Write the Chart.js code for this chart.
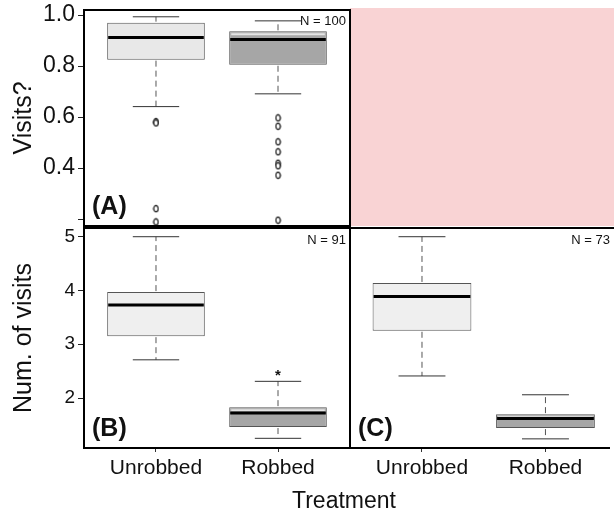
<!doctype html>
<html>

<head>
	<title>Visits by treatment</title>
	<script src="https://cdn.jsdelivr.net/npm/chart.js@4/dist/chart.umd.min.js"></script>
	<style>
		body {
			margin: 0;
			background: #fff;
		}

		#holder {
			position: relative;
			width: 614px;
			height: 515px;
			font-family: "Liberation Sans", Arial, sans-serif;
		}

		#holder canvas {
			position: absolute;
			left: 0;
			top: 0;
		}

		#blank {
			position: absolute;
			left: 350px;
			top: 8px;
			width: 264px;
			height: 218px;
			background: #f9d3d4;
		}

		#xtitle {
			position: absolute;
			left: 244px;
			top: 489px;
			width: 200px;
			text-align: center;
			font-size: 23px;
			line-height: 23px;
			color: #111;
		}
	</style>
</head>

<body>
	<div id="holder">
		<div id="blank"></div>
		<canvas id="chart-a" width="614" height="515"></canvas>
		<canvas id="chart-b" width="614" height="515"></canvas>
		<canvas id="chart-c" width="614" height="515"></canvas>
		<div id="xtitle">Treatment</div>
	</div>
	<script>
		const categories = ['Unrobbed', 'Robbed'];

		// panel A - Visits?
		const aLow = [0.641, 0.691];
		const aQ1 = [0.825, 0.805];
		const aMed = [0.912, 0.904];
		const aQ3 = [0.970, 0.936];
		const aHigh = [0.993, 0.977];
		const aOutUnrobbed = [0.582, 0.577, 0.241, 0.189];
		const aOutRobbed = [0.597, 0.564, 0.503, 0.464, 0.419, 0.409, 0.372, 0.196];
		const aTicks = [0.2, 0.4, 0.6, 0.8, 1.0];
		const aTickLabels = ['', '0.4', '0.6', '0.8', '1.0'];

		// panel B - Num. of visits
		const bLow = [2.71, 1.25];
		const bQ1 = [3.15, 1.46];
		const bMed = [3.73, 1.72];
		const bQ3 = [3.97, 1.83];
		const bHigh = [5.0, 2.31];
		const bStars = ['', '*'];

		// panel C
		const cLow = [2.41, 1.24];
		const cQ1 = [3.25, 1.44];
		const cMed = [3.89, 1.62];
		const cQ3 = [4.14, 1.70];
		const cHigh = [5.0, 2.06];

		const visitTicks = [2, 3, 4, 5];

		const FONT = '"Liberation Sans", Arial, sans-serif';
		const boxColors = ['#ececec', '#a6a6a6'];

		// little open oval used for the outliers
		const oval = document.createElement('canvas');
		oval.width = 7;
		oval.height = 9;
		(function() {
			const c = oval.getContext('2d');
			c.beginPath();
			c.ellipse(3.5, 4.5, 2.2, 3.2, 0, 0, Math.PI * 2);
			c.fillStyle = '#fff';
			c.fill();
			c.strokeStyle = '#111';
			c.lineWidth = 1.2;
			c.stroke();
		})();

		function line(ctx, x1, y1, x2, y2) {
			ctx.beginPath();
			ctx.moveTo(x1, y1);
			ctx.lineTo(x2, y2);
			ctx.stroke();
		}

		const boxExtras = {
			id: 'boxExtras',
			afterDatasetsDraw(chart, args, opts) {
				const {ctx, scales: {x, y}} = chart;
				const bars = chart.getDatasetMeta(0).data;
				ctx.save();
				opts.median.forEach((m, i) => {
					const cx = x.getPixelForValue(i + 1);
					const half = bars[i].width / 2;
					const yTop = y.getPixelForValue(opts.q3[i]);
					const yBot = y.getPixelForValue(opts.q1[i]);
					const yHi = y.getPixelForValue(opts.high[i]);
					const yLo = y.getPixelForValue(opts.low[i]);
					// whiskers
					ctx.strokeStyle = '#555';
					ctx.lineWidth = 1;
					ctx.setLineDash([6, 4]);
					line(ctx, cx, yTop - 1, cx, yHi);
					line(ctx, cx, yBot + 1, cx, yLo);
					ctx.setLineDash([]);
					// caps
					ctx.strokeStyle = '#333';
					const capL = x.getPixelForValue(i + 1 - 0.19);
					const capR = x.getPixelForValue(i + 1 + 0.19);
					line(ctx, capL, yHi, capR, yHi);
					line(ctx, capL, yLo, capR, yLo);
					// shine on the dark boxes
					if (i === 1) {
						ctx.strokeStyle = '#e4e4e4';
						ctx.lineWidth = 2;
						line(ctx, cx - half + 2, yTop + 3, cx + half - 2, yTop + 3);
					}
					// median
					ctx.strokeStyle = '#000';
					ctx.lineWidth = 3;
					const ym = y.getPixelForValue(m);
					line(ctx, cx - half + 1, ym, cx + half - 1, ym);
					// star
					if (opts.stars && opts.stars[i]) {
						ctx.fillStyle = '#111';
						ctx.font = 'bold 15px ' + FONT;
						ctx.textAlign = 'center';
						ctx.textBaseline = 'alphabetic';
						ctx.fillText(opts.stars[i], cx, yHi - 1);
					}
				});
				ctx.restore();
			},
			afterDraw(chart, args, opts) {
				const {ctx, chartArea: a} = chart;
				ctx.save();
				// frame
				ctx.strokeStyle = '#000';
				ctx.lineWidth = 2;
				const sides = opts.sides;
				if (sides.includes('t')) line(ctx, a.left, a.top, a.right, a.top);
				if (sides.includes('b')) line(ctx, a.left, a.bottom, a.right - (opts.bottomTrim || 0), a.bottom);
				if (sides.includes('l')) line(ctx, a.left, a.top - 1, a.left, a.bottom + 1);
				if (sides.includes('r')) line(ctx, a.right, a.top - 1, a.right, a.bottom + 1);
				// N label
				ctx.fillStyle = '#111';
				ctx.font = '13px ' + FONT;
				ctx.textAlign = 'right';
				ctx.textBaseline = 'middle';
				ctx.fillText(opts.nLabel, a.right - 4, a.top + 12);
				// panel letter
				ctx.font = 'bold 25px ' + FONT;
				ctx.textAlign = 'left';
				ctx.textBaseline = 'alphabetic';
				ctx.fillText(opts.panel, a.left + 8, a.bottom - 12);
				ctx.restore();
			}
		};

		function boxData(q1, q3) {
			return categories.map((c, i) => ({x: i + 1, y: [q1[i], q3[i]]}));
		}

		function outlierData(unrobbed, robbed) {
			return unrobbed.map(v => ({x: 1, y: v})).concat(robbed.map(v => ({x: 2, y: v})));
		}

		function yAxis(show, min, max, ticks, labels, size, title) {
			return {
				display: show,
				min: min,
				max: max,
				afterBuildTicks: (scale) => {
					scale.ticks = ticks.map(v => ({value: v}));
				},
				afterFit: (scale) => {
					if (show) scale.width = 84;
				},
				ticks: {
					callback: (v, i) => labels[i],
					font: {family: FONT, size: size, lineHeight: 0.6},
					color: '#111',
					padding: 3
				},
				grid: {drawOnChartArea: false, tickLength: 6, color: '#222'},
				border: {display: false},
				title: {
					display: true,
					text: title,
					font: {family: FONT, size: 25},
					color: '#111',
					padding: {top: 9, bottom: 0}
				}
			};
		}

		function xAxis(show, min, max) {
			return {
				type: 'linear',
				display: show,
				offset: false,
				min: min,
				max: max,
				afterBuildTicks: (scale) => {
					scale.ticks = categories.map((c, i) => ({value: i + 1}));
				},
				afterFit: (scale) => {
					if (show) scale.height = 40;
				},
				ticks: {
					callback: (v, i) => categories[i],
					font: {family: FONT, size: 21},
					color: '#111',
					padding: 4,
					autoSkip: false,
					maxRotation: 0
				},
				grid: {drawOnChartArea: false, offset: false, tickLength: 4, color: '#333'},
				border: {display: false}
			};
		}

		function makeConfig(q1, q3, outliers, fillLight, yScale, xScale, extras, padding) {
			return {
				type: 'bar',
				data: {
					datasets: [{
						data: boxData(q1, q3),
						backgroundColor: [fillLight, boxColors[1]],
						borderColor: '#555',
						borderWidth: 1,
						borderSkipped: false,
						categoryPercentage: 0.8,
						barPercentage: 1
					}, {
						type: 'scatter',
						data: outliers,
						pointStyle: oval,
						pointRadius: 3
					}]
				},
				options: {
					responsive: false,
					animation: false,
					events: [],
					layout: {padding: padding},
					scales: {x: xScale, y: yScale},
					plugins: {
						legend: {display: false},
						tooltip: {enabled: false},
						boxExtras: extras
					}
				},
				plugins: [boxExtras]
			};
		}

		const chartA = new Chart(document.getElementById('chart-a'), makeConfig(
			aQ1, aQ3, outlierData(aOutUnrobbed, aOutRobbed), '#e8e8e8',
			yAxis(true, 0.173, 1.02, aTicks, aTickLabels, 23, 'Visits?'),
			xAxis(false, 0.41, 2.59),
			{low: aLow, q1: aQ1, median: aMed, q3: aQ3, high: aHigh, nLabel: 'N = 100', panel: '(A)', sides: 'tblr'},
			{left: 0, top: 8, right: 264, bottom: 289}
		));

		const chartB = new Chart(document.getElementById('chart-b'), makeConfig(
			bQ1, bQ3, [], '#efefef',
			yAxis(true, 1.07, 5.162, visitTicks, visitTicks.map(String), 19, 'Num. of visits'),
			xAxis(true, 0.41, 2.59),
			{low: bLow, q1: bQ1, median: bMed, q3: bQ3, high: bHigh, stars: bStars, nLabel: 'N = 91', panel: '(B)', sides: 'tblr'},
			{left: 0, top: 228, right: 264, bottom: 27}
		));

		const chartC = new Chart(document.getElementById('chart-c'), makeConfig(
			cQ1, cQ3, [], '#efefef',
			yAxis(false, 1.07, 5.162, visitTicks, visitTicks.map(String), 19, ''),
			xAxis(true, 0.417, 2.555),
			{low: cLow, q1: cQ1, median: cMed, q3: cQ3, high: cHigh, nLabel: 'N = 73', panel: '(C)', sides: 'tbl', bottomTrim: 4},
			{left: 350, top: 228, right: 0, bottom: 27}
		));
	</script>
</body>

</html>
